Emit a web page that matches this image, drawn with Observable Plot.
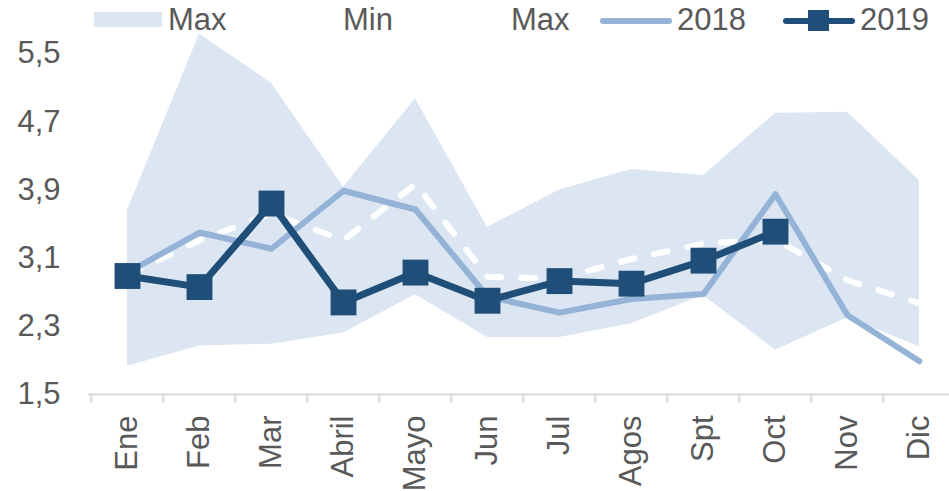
<!DOCTYPE html>
<html><head><meta charset="utf-8">
<script src="https://cdn.jsdelivr.net/npm/d3@7"></script>
<script src="https://cdn.jsdelivr.net/npm/@observablehq/plot@0.6"></script>
<style>
body{margin:0;background:#fff;font-family:"Liberation Sans",Arial,sans-serif;}
#wrap{position:relative;width:949px;height:491px;overflow:hidden;}
#legend{position:absolute;left:0;top:0;width:949px;height:45px;}
.sym{position:absolute;}
.lbl{position:absolute;top:4px;font-size:31px;line-height:31px;color:#595959;white-space:nowrap;}
</style></head><body>
<div id="wrap"><div id="chart"></div><div id="legend"></div></div>
<script>
const months = ["Ene","Feb","Mar","Abril","Mayo","Jun","Jul","Agos","Spt","Oct","Nov","Dic"];
const maxVals = [3.66, 5.73, 5.15, 3.93, 4.97, 3.46, 3.90, 4.14, 4.07, 4.80, 4.81, 4.01];
const minVals = [1.83, 2.07, 2.09, 2.22, 2.67, 2.17, 2.17, 2.33, 2.66, 2.02, 2.40, 2.06];
const avgVals = [2.90, 3.31, 3.62, 3.31, 3.97, 2.88, 2.86, 3.09, 3.27, 3.32, 2.84, 2.57];
const v2018 = [2.93, 3.40, 3.21, 3.89, 3.67, 2.65, 2.46, 2.62, 2.68, 3.85, 2.43, 1.89];
const v2019 = [2.89, 2.76, 3.74, 2.58, 2.93, 2.60, 2.83, 2.80, 3.07, 3.41, null, null];
const yTicks = [1.5, 2.3, 3.1, 3.9, 4.7, 5.5];
const legendLabels = ["Max", "Min", "Max", "2018", "2019"];

const cBand = "#DCE6F2", c18 = "#95B3D7", c19 = "#1F4E79", cText = "#595959", cAxis = "#D9D9D9";

const band = months.map((m, i) => ({month: m, min: minVals[i], max: maxVals[i]}));
const avg = months.map((m, i) => ({month: m, value: avgVals[i]}));
const s18 = months.map((m, i) => ({month: m, value: v2018[i]}));
const s19 = months.map((m, i) => ({month: m, value: v2019[i]})).filter(d => d.value != null);
const fmt = d => d.toFixed(1).replace(".", ",");

const plot = Plot.plot({
  width: 949, height: 491,
  marginTop: 53, marginBottom: 97, marginLeft: 88, marginRight: 0,
  style: {fontFamily: "'Liberation Sans', Arial, sans-serif", fontSize: "31px", color: cText, background: "white"},
  x: {type: "point", domain: months, range: [124, 922], padding: 0, label: null},
  y: {domain: [1.5, 5.5], label: null},
  marks: [
    Plot.areaY(band, {x: "month", y1: "min", y2: "max", fill: cBand}),
    Plot.ruleY([1.5], {stroke: cAxis, strokeWidth: 2}),
    Plot.axisX({ticks: months, tickSize: 9, tickFormat: () => "", dx: -36.25, stroke: cAxis, strokeWidth: 2, strokeOpacity: 1}),
    Plot.axisX({ticks: months, tickSize: 0, tickPadding: 21, tickRotate: -90, fill: cText, fontSize: 31}),
    Plot.axisY({ticks: yTicks, tickSize: 0, tickPadding: 28, tickFormat: fmt, fill: cText, fontSize: 31}),
    Plot.line(avg, {x: "month", y: "value", stroke: "white", strokeWidth: 6, strokeDasharray: "14 20", strokeLinecap: "round"}),
    Plot.line(s18, {x: "month", y: "value", stroke: c18, strokeWidth: 6, strokeLinejoin: "round", strokeLinecap: "round"}),
    Plot.line(s19, {x: "month", y: "value", stroke: c19, strokeWidth: 7, strokeLinejoin: "round"}),
    Plot.dot(s19, {x: "month", y: "value", symbol: "square", r: 14.6, fill: c19, stroke: null})
  ]
});
document.getElementById("chart").appendChild(plot);

// legend
const legend = document.getElementById("legend");
function el(cls, css, text) {
  const d = document.createElement("div");
  d.className = cls;
  Object.assign(d.style, css);
  if (text != null) d.textContent = text;
  legend.appendChild(d);
}
const symbols = [
  [{left: "94px", top: "12px", width: "68px", height: "15px", background: cBand}],
  [{left: "269px", top: "12px", width: "68px", height: "15px", background: "white"}],
  [{left: "437px", top: "18px", width: "68px", height: "6px", background: "white"}],
  [{left: "600px", top: "18px", width: "72px", height: "6px", borderRadius: "3px", background: c18}],
  [{left: "783px", top: "18px", width: "72px", height: "6px", borderRadius: "3px", background: c19},
   {left: "808px", top: "10px", width: "21px", height: "21px", background: c19}]
];
const labelLeft = [168, 343, 511, 677, 860];
legendLabels.forEach((t, i) => {
  symbols[i].forEach(s => el("sym", s));
  el("lbl", {left: labelLeft[i] + "px"}, t);
});
</script>
</body></html>
